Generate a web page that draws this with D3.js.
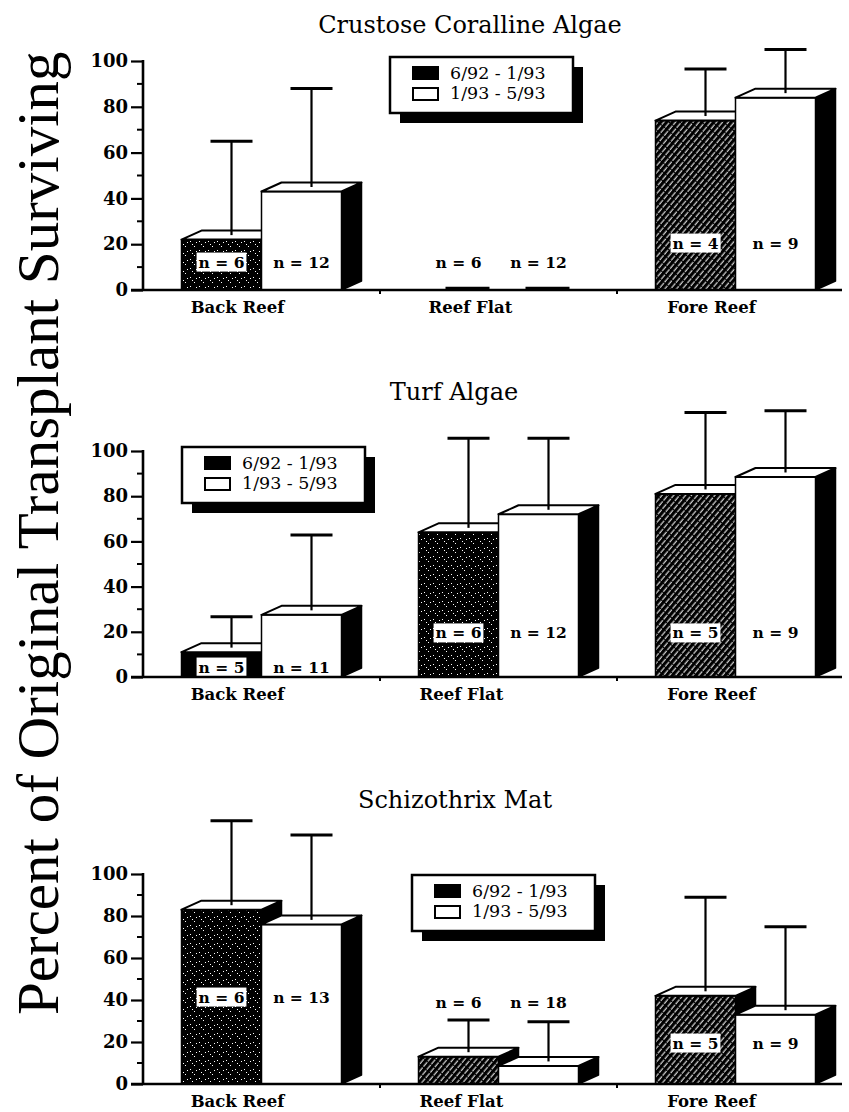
<!DOCTYPE html>
<html><head><meta charset="utf-8">
<script src="https://cdn.jsdelivr.net/npm/d3@7"></script>
<style>body{margin:0;background:#fff}
.ylab{font-family:"Liberation Serif","Times New Roman",Tinos,"Nimbus Roman",serif;}
</style>
</head><body>
<script>
// ---------- DATA ----------
const categories = ["Back Reef", "Reef Flat", "Fore Reef"];
const seriesNames = ["6/92 - 1/93", "1/93 - 5/93"];
const panelTitles = ["Crustose Coralline Algae", "Turf Algae", "Schizothrix Mat"];
const yTickValues = [0, 20, 40, 60, 80, 100];
const yLabel = "Percent of Original Transplant Surviving";
// mean % surviving, [panel][category]
const meanEarly = [[22, 0, 74], [11, 64, 81], [83, 13, 42]];
const meanLate  = [[43, 0, 84], [27.5, 72, 88.5], [76, 8.6, 33]];
// top of error bar (mean + SD), [panel][category]
const upperEarly = [[65, null, 96.5], [26.7, 105.6, 117], [125.4, 30.5, 88.9]];
const upperLate  = [[88, null, 105], [62.8, 105.6, 117.8], [118.6, 29.7, 74.9]];
// sample sizes
const nEarly = [[6, 6, 4], [5, 6, 5], [6, 6, 5]];
const nLate  = [[12, 12, 9], [11, 12, 9], [13, 18, 9]];

// ---------- LAYOUT / STYLE ----------
const W = 849, H = 1112;
const DX = 20, DY = 9;
const panels = [
  {y0: 290, y100: 61, titleX: 470, titleY: 33, legend: {x: 390, y: 57},
   nLevel: [12.2, 12.2, 20.5], darkFill: ["stipple", "stipple", "hatch"], catDx: [-24, -28, -24]},
  {y0: 677, y100: 451, titleX: 454, titleY: 400, legend: {x: 182, y: 447},
   nLevel: [4.4, 19.5, 19.5], darkFill: ["solid", "stipple", "hatch"], catDx: [-24, -37, -24]},
  {y0: 1084, y100: 874, titleX: 455, titleY: 808, legend: {x: 412, y: 875},
   nLevel: [41.4, 39, 19.5], darkFill: ["stipple", "hatch", "hatch"], catDx: [-24, -37, -24]}
];
const AXIS_X = 143, AXIS_RIGHT = 854, LINE_RIGHT = 842;
const serif = "'DejaVu Serif', serif";

const svg = d3.select("body").append("svg").attr("width", W).attr("height", H)
  .style("display", "block");

// patterns
const defs = svg.append("defs");
const st = defs.append("pattern").attr("id", "stipple").attr("width", 9).attr("height", 9)
  .attr("patternUnits", "userSpaceOnUse");
st.append("rect").attr("width", 9).attr("height", 9).attr("fill", "#000");
[[1, 7], [5, 3], [7, 8], [3, 1]].forEach(([x, y]) =>
  st.append("rect").attr("x", x).attr("y", y).attr("width", 1).attr("height", 1).attr("fill", "#fff"));
const ht = defs.append("pattern").attr("id", "hatch").attr("width", 4.5).attr("height", 7)
  .attr("patternUnits", "userSpaceOnUse").attr("patternTransform", "rotate(40)");
ht.append("rect").attr("width", 4.5).attr("height", 7).attr("fill", "#000");
ht.append("line").attr("x1", 2).attr("x2", 2).attr("y1", 0).attr("y2", 7)
  .attr("stroke", "#f0f0f0").attr("stroke-width", 1.1).attr("stroke-dasharray", "6,1");
const fillFor = k => k === "solid" ? "#000" : `url(#${k})`;

// y-axis label
svg.append("text").attr("class", "ylab").attr("transform", "translate(58,1015) rotate(-90)")
  .attr("font-size", 59)
  .text(yLabel);

const x = d3.scaleBand().domain(categories).range([AXIS_X, AXIS_RIGHT]);
const xs = d3.scaleBand().domain(seriesNames).range([0, 160]);

function bar3d(g, x0, w, yTop, y0, fill) {
  const x1 = x0 + w;
  g.append("path").attr("d", `M${x1},${yTop}L${x1 + DX},${yTop - DY}L${x1 + DX},${y0 - DY}L${x1},${y0}Z`)
    .attr("fill", "#000").attr("stroke", "#000").attr("stroke-width", 1.5).attr("stroke-linejoin", "round");
  g.append("rect").attr("x", x0).attr("y", yTop).attr("width", w).attr("height", y0 - yTop)
    .attr("fill", fill).attr("stroke", "#000").attr("stroke-width", 1.5);
  g.append("path").attr("d", `M${x0},${yTop}L${x0 + DX},${yTop - DY}L${x1 + DX},${yTop - DY}L${x1},${yTop}Z`)
    .attr("fill", "#fff").attr("stroke", "#000").attr("stroke-width", 2).attr("stroke-linejoin", "round");
}

panels.forEach((p, pi) => {
  const y = d3.scaleLinear().domain([0, 100]).range([p.y0, p.y100]);
  const g = svg.append("g");

  // title
  g.append("text").attr("x", p.titleX).attr("y", p.titleY).attr("text-anchor", "middle")
    .attr("font-family", serif).attr("font-size", 24).text(panelTitles[pi]);

  // legend
  const L = p.legend, LW = 183, LH = 56;
  g.append("rect").attr("x", L.x + 10).attr("y", L.y + 10).attr("width", LW).attr("height", LH).attr("fill", "#000");
  g.append("rect").attr("x", L.x).attr("y", L.y).attr("width", LW).attr("height", LH)
    .attr("fill", "#fff").attr("stroke", "#000").attr("stroke-width", 2.5);
  seriesNames.forEach((s, si) => {
    g.append("rect").attr("x", L.x + 23).attr("y", L.y + 10 + si * 21).attr("width", 25).attr("height", 12)
      .attr("fill", si === 0 ? "#000" : "#fff").attr("stroke", "#000").attr("stroke-width", 2);
    g.append("text").attr("x", L.x + 60).attr("y", L.y + 22 + si * 20)
      .attr("font-family", serif).attr("font-size", 17.5).text(s);
  });

  // bars
  const bars = [];
  categories.forEach((c, ci) => {
    const gx = x(c) + (x.bandwidth() - 160) / 2;
    [[meanEarly, upperEarly, nEarly], [meanLate, upperLate, nLate]].forEach(([m, u, n], si) => {
      bars.push({ci, si, x0: gx + xs(seriesNames[si]), w: xs.bandwidth(), v: m[pi][ci], up: u[pi][ci], n: n[pi][ci]});
    });
  });
  const bg = g.append("g");
  bars.forEach(b => {
    if (b.v === 0) {
      bg.append("line").attr("x1", b.x0 + 27).attr("x2", b.x0 + b.w - 9)
        .attr("y1", p.y0 - 1.5).attr("y2", p.y0 - 1.5).attr("stroke", "#000").attr("stroke-width", 3.5);
      return;
    }
    const fill = b.si === 0 ? fillFor(p.darkFill[b.ci]) : "#fff";
    bar3d(bg, b.x0, b.w, y(b.v), p.y0, fill);
  });

  // error bars
  bars.filter(b => b.up != null).forEach(b => {
    const cx = b.x0 + b.w / 2 + DX / 2;
    g.append("line").attr("x1", cx).attr("x2", cx).attr("y1", y(b.v) - DY / 2).attr("y2", y(b.up))
      .attr("stroke", "#000").attr("stroke-width", 2.2);
    g.append("line").attr("x1", cx - 21).attr("x2", cx + 21).attr("y1", y(b.up)).attr("y2", y(b.up))
      .attr("stroke", "#000").attr("stroke-width", 3);
  });

  // n labels
  bars.forEach(b => {
    const lv = p.nLevel[b.ci];
    const cx = b.x0 + b.w / 2;
    const t = g.append("text").attr("x", cx).attr("y", y(lv) + 5.5).attr("text-anchor", "middle")
      .attr("font-family", serif).attr("font-weight", "bold").attr("font-size", 15.5)
      .text(`n = ${b.n}`);
    if (b.si === 0 && b.v > lv) {
      const bb = t.node().getBBox();
      g.insert("rect", () => t.node()).attr("x", bb.x - 2).attr("y", bb.y)
        .attr("width", bb.width + 4).attr("height", bb.height).attr("fill", "#fff");
    }
  });

  // axes
  const yAxis = d3.axisLeft(y).tickValues(yTickValues).tickSize(12).tickPadding(3).tickFormat(d3.format("d"));
  const ya = g.append("g").attr("transform", `translate(${AXIS_X},0)`).call(yAxis);
  ya.select(".domain").remove();
  ya.selectAll(".tick line").attr("stroke-width", 2.2);
  ya.selectAll(".tick text").attr("font-family", serif).attr("font-weight", "bold").attr("font-size", 18)
    .attr("fill", "#000");
  const minor = d3.range(10, 100, 20);
  g.selectAll(null).data(minor).enter().append("line")
    .attr("x1", AXIS_X - 6).attr("x2", AXIS_X).attr("y1", d => y(d)).attr("y2", d => y(d))
    .attr("stroke", "#000").attr("stroke-width", 2);
  g.append("line").attr("x1", AXIS_X).attr("x2", AXIS_X).attr("y1", p.y0 + 1).attr("y2", y(100) - 1)
    .attr("stroke", "#000").attr("stroke-width", 2.6);
  g.append("line").attr("x1", AXIS_X - 12).attr("x2", LINE_RIGHT).attr("y1", p.y0).attr("y2", p.y0)
    .attr("stroke", "#000").attr("stroke-width", 2.6);
  categories.slice(1).forEach(c => {
    g.append("line").attr("x1", x(c)).attr("x2", x(c)).attr("y1", p.y0).attr("y2", p.y0 + 4)
      .attr("stroke", "#000").attr("stroke-width", 2);
  });
  categories.forEach((c, ci) => {
    g.append("text").attr("x", x(c) + x.bandwidth() / 2 + p.catDx[ci]).attr("y", p.y0 + 23)
      .attr("text-anchor", "middle").attr("font-family", serif).attr("font-weight", "bold")
      .attr("font-size", 16.5).text(c);
  });
});
</script>
</body></html>
